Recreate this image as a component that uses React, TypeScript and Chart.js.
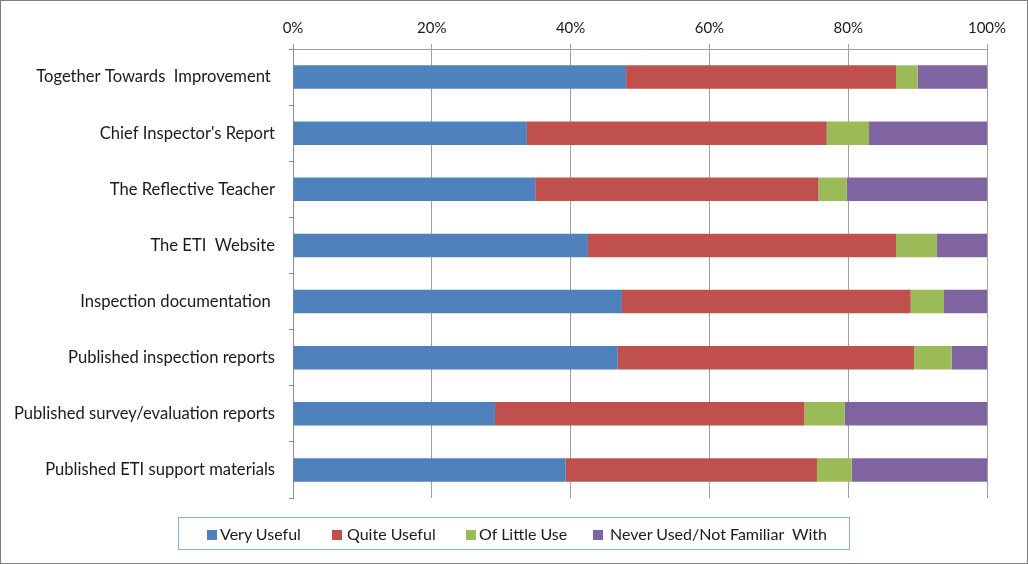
import React, { useEffect, useRef } from "react";
import { Chart, registerables } from "chart.js";

Chart.register(...registerables);

const categories = [
  "Together Towards  Improvement ",
  "Chief Inspector's Report",
  "The Reflective Teacher",
  "The ETI  Website",
  "Inspection documentation ",
  "Published inspection reports",
  "Published survey/evaluation reports",
  "Published ETI support materials",
];

const seriesNames = ["Very Useful", "Quite Useful", "Of Little Use", "Never Used/Not Familiar  With"];
const seriesColors = ["#4F81BD", "#C0504D", "#9BBB59", "#8064A2"];

const veryUseful = [48.0, 33.7, 34.9, 42.5, 47.4, 46.8, 29.1, 39.3];
const quiteUseful = [38.9, 43.2, 40.8, 44.4, 41.6, 42.7, 44.6, 36.2];
const ofLittleUse = [3.1, 6.1, 4.1, 5.9, 4.8, 5.4, 5.8, 5.0];
const neverUsed = [10.0, 17.0, 20.2, 7.2, 6.2, 5.1, 20.5, 19.5];

const xTicks = [0, 20, 40, 60, 80, 100];

const FONT = "Lato";

export default function App() {
  const ref = useRef<HTMLCanvasElement | null>(null);

  useEffect(() => {
    if (!ref.current) return;
    const values = [veryUseful, quiteUseful, ofLittleUse, neverUsed];
    const chart = new Chart(ref.current, {
      type: "bar",
      data: {
        labels: categories,
        datasets: values.map((v, i) => ({
          label: seriesNames[i],
          data: v,
          backgroundColor: seriesColors[i],
          borderWidth: 0,
          barPercentage: 0.42,
          categoryPercentage: 1,
        })),
      },
      options: {
        indexAxis: "y",
        animation: false,
        responsive: false,
        maintainAspectRatio: false,
        layout: { padding: { left: 0, top: 0, right: 40, bottom: 65 } },
        plugins: { legend: { display: false }, tooltip: { enabled: false } },
        scales: {
          x: {
            type: "linear",
            position: "top",
            stacked: true,
            min: 0,
            max: 100,
            afterBuildTicks: (scale: any) => {
              scale.ticks = xTicks.map((v) => ({ value: v }));
            },
            afterFit: (scale: any) => {
              scale.height = 48;
            },
            ticks: {
              callback: (v: any) => v + "%",
              color: "#1a1a1a",
              font: { family: FONT, size: 15 },
              padding: 7,
              maxRotation: 0,
            },
            grid: { color: "#a0a0a0", tickLength: 5, lineWidth: 1 },
            border: { display: true, color: "#a0a0a0" },
          },
          y: {
            type: "category",
            stacked: true,
            afterFit: (scale: any) => {
              scale.width = 292;
            },
            ticks: {
              color: "#1a1a1a",
              font: { family: FONT, size: 16.6 },
              padding: 14,
            },
            grid: { drawOnChartArea: false, offset: true, tickLength: 4, color: "#8c8c8c" },
            border: { display: true, color: "#8c8c8c" },
          },
        },
      },
    });
    return () => chart.destroy();
  }, []);

  const legendPos = [
    { sq: 207, tx: 220 },
    { sq: 332, tx: 347 },
    { sq: 466, tx: 479 },
    { sq: 593, tx: 610 },
  ];

  return (
    <div
      style={{
        position: "absolute",
        left: 0,
        top: 0,
        width: 1028,
        height: 564,
        boxSizing: "border-box",
        border: "1px solid #7f7f7f",
        background: "#fff",
        overflow: "hidden",
      }}
    >
      <canvas ref={ref} width={1026} height={562} style={{ display: "block", width: 1026, height: 562 }} />
      <div
        style={{
          position: "absolute",
          left: 177,
          top: 516,
          width: 672,
          height: 33,
          border: "1px solid #8EA9DB",
          boxSizing: "border-box",
        }}
      />
      {seriesNames.map((n, i) => (
        <React.Fragment key={n}>
          <div
            style={{
              position: "absolute",
              left: legendPos[i].sq - 1,
              top: 529,
              width: 10,
              height: 10,
              background: seriesColors[i],
            }}
          />
          <div
            style={{
              position: "absolute",
              left: legendPos[i].tx - 1,
              top: 523,
              height: 20,
              lineHeight: "20px",
              fontFamily: FONT,
              fontSize: 16,
              color: "#1a1a1a",
              whiteSpace: "pre",
            }}
          >
            {n}
          </div>
        </React.Fragment>
      ))}
    </div>
  );
}
